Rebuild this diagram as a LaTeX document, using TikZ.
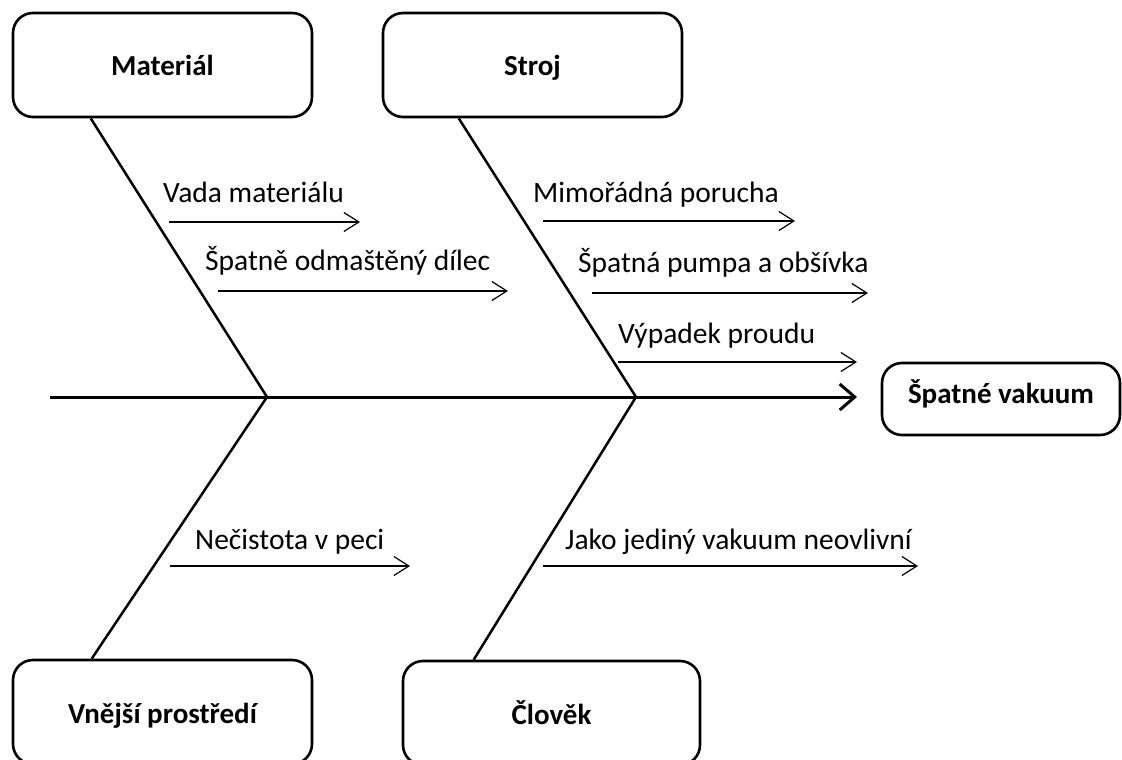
\documentclass[tikz,border=0pt]{standalone}
\usepackage{fontspec}
\setmainfont{Carlito}
\usetikzlibrary{arrows.meta}

\begin{document}
\begin{tikzpicture}[x=1pt,y=-1pt,
  font=\fontsize{29.5}{35}\selectfont,
  catbox/.style={draw,line width=2.6pt,rounded corners=20pt,fill=white,
    minimum width=299pt,minimum height=104pt,inner sep=0pt,
    font=\fontsize{29}{35}\selectfont\bfseries,
    text height=24pt,text depth=2pt},
  effectbox/.style={catbox,minimum width=238pt,minimum height=72pt,
    text height=17pt,text depth=9pt},
  bone/.style={line width=2.5pt},
  spine/.style={line width=3pt,-{Straight Barb[length=15pt,width=26pt]}},
  cause/.style={line width=1.2pt,-{Straight Barb[length=15pt,width=19pt]}},
  causetext/.style={anchor=base west,inner sep=0pt},
]
\clip (0,0) rectangle (1122,760);
\fill[white] (0,0) rectangle (1122,760);

% category boxes and the effect
\node[catbox] (mat) at (162.5,65) {Materiál};
\node[catbox] (stroj) at (532.5,65) {Stroj};
\node[catbox] (vnej) at (162.5,712) {Vnější prostředí};
\node[catbox,minimum width=297pt] (clov) at (551.5,713) {Člověk};
\node[effectbox] (vak) at (1001,399) {Špatné vakuum};

% spine
\coordinate (tail) at (50,397);
\coordinate (head) at (857,397);
\coordinate (j1) at (267,397);
\coordinate (j2) at (636,397);
\draw[spine] (tail) -- (head);

% bones
\draw[bone] ([xshift=79pt]mat.south west) -- (j1);
\draw[bone] ([xshift=77pt]stroj.south west) -- (j2);
\draw[bone] (j1) -- ([xshift=80pt]vnej.north west);
\draw[bone] (j2) -- ([xshift=72pt]clov.north west);

% causes: Materiál
\coordinate (a1s) at (169,222); \coordinate (a1e) at (360,222);
\draw[cause] (a1s) -- (a1e);
\node[causetext] (t1) at (163,202) {Vada materiálu};
\coordinate (a2s) at (218,291); \coordinate (a2e) at (508,291);
\draw[cause] (a2s) -- (a2e);
\node[causetext] (t2) at (205,270) {Špatně odmaštěný dílec};

% causes: Stroj
\coordinate (b1s) at (543,221); \coordinate (b1e) at (795,221);
\draw[cause] (b1s) -- (b1e);
\node[causetext] (t3) at (533,202) {Mimořádná porucha};
\coordinate (b2s) at (592,293); \coordinate (b2e) at (868,293);
\draw[cause] (b2s) -- (b2e);
\node[causetext] (t4) at (578,272) {Špatná pumpa a obšívka};
\coordinate (b3s) at (618,362); \coordinate (b3e) at (857,362);
\draw[cause] (b3s) -- (b3e);
\node[causetext] (t5) at (618,343) {Výpadek proudu};

% causes: Vnější prostředí
\coordinate (c1s) at (170,566); \coordinate (c1e) at (410,566);
\draw[cause] (c1s) -- (c1e);
\node[causetext] (t6) at (195,549) {Nečistota v peci};

% causes: Člověk
\coordinate (d1s) at (543,566); \coordinate (d1e) at (918,566);
\draw[cause] (d1s) -- (d1e);
\node[causetext] (t7) at (565,549) {Jako jediný vakuum neovlivní};
\end{tikzpicture}
\end{document}
